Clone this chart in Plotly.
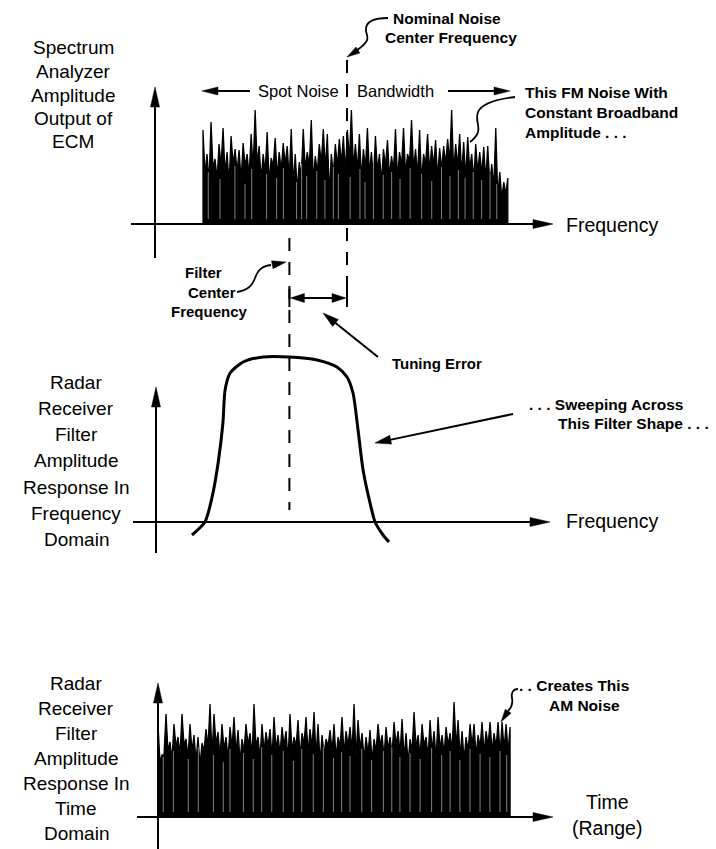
import numpy as np
import plotly.graph_objects as go

W, H = 716, 849
FONT = "Liberation Sans, Arial, Helvetica, sans-serif"

# ---- data -----------------------------------------------------------------
# frequency axis (arbitrary units) shared by the spectrum and filter panels
NOISE_CENTER = 8.0          # nominal noise centre frequency
FILTER_CENTER = 5.6         # radar receiver filter centre frequency
SPOT_BAND = (2.0, 14.7)     # spot-noise bandwidth
AM_SPAN = (0.0, 14.67)      # time span of the detected AM noise

# FM noise spectrum: alternating spike tops and the troughs between them
spot_peaks = [0.94, 0.70, 1.02, 0.65, 0.80, 0.96, 0.72, 0.88, 0.75, 0.74,
              0.81, 0.70, 0.90, 1.14, 0.78, 0.70, 0.92, 0.66, 0.86, 0.72,
              0.81, 0.78, 0.95, 0.70, 0.62, 0.95, 0.72, 1.04, 0.68, 0.80,
              0.95, 0.90, 0.70, 0.80, 0.85, 0.88, 0.94, 1.14, 0.80, 0.90,
              0.75, 0.96, 0.72, 0.88, 0.70, 0.75, 0.84, 0.68, 0.95, 0.72,
              0.96, 0.70, 1.04, 0.75, 0.94, 0.70, 0.90, 0.78, 0.84, 0.76,
              0.78, 0.85, 1.14, 0.80, 0.90, 0.82, 0.87, 0.70, 0.80, 0.72,
              0.77, 0.78, 0.60, 0.96, 0.52, 0.42, 0.46]
spot_dips = [0.50, 0.42, 0.55, 0.45, 0.58, 0.50, 0.40, 0.60, 0.52, 0.44,
             0.58, 0.48, 0.55, 0.60, 0.44, 0.52, 0.42, 0.58, 0.47, 0.54,
             0.60, 0.45, 0.40, 0.34, 0.48, 0.55, 0.58, 0.44, 0.52, 0.61,
             0.55, 0.30, 0.50, 0.58, 0.60, 0.52, 0.64, 0.56, 0.54, 0.46,
             0.56, 0.50, 0.44, 0.53, 0.42, 0.58, 0.47, 0.54, 0.45, 0.58,
             0.50, 0.62, 0.55, 0.48, 0.43, 0.60, 0.52, 0.58, 0.46, 0.55,
             0.60, 0.62, 0.52, 0.58, 0.50, 0.46, 0.55, 0.44, 0.52, 0.50,
             0.44, 0.40, 0.36, 0.28, 0.26, 0.30]
# thin gaps in the dense spectral lines: (frequency, top amplitude)
spot_gap_freq = [2.22, 2.71, 3.33, 3.75, 4.03, 4.65, 5.07, 5.35, 5.90, 6.11,
                 6.32, 6.74, 7.08, 7.43, 7.64, 8.13, 8.54, 8.75, 9.10, 9.51,
                 9.86, 10.21, 10.63, 11.11, 11.53, 11.94, 12.29, 12.64, 12.92,
                 13.26, 13.61, 13.96, 14.24]
spot_gap_top = [0.52, 0.45, 0.58, 0.40, 0.55, 0.50, 0.46, 0.56, 0.42, 0.60,
                0.48, 0.53, 0.44, 0.57, 0.50, 0.47, 0.55, 0.42, 0.58, 0.49,
                0.52, 0.45, 0.56, 0.50, 0.43, 0.57, 0.48, 0.54, 0.46, 0.52,
                0.44, 0.50, 0.40]

# filter amplitude response
filter_freq = [1.54, 2.08, 2.38, 2.63, 2.83, 2.92, 3.13, 3.67, 4.50, 5.58,
               6.75, 7.58, 8.00, 8.25, 8.46, 8.67, 8.96, 9.17, 9.50, 9.75]
filter_amp = [-0.13, 0.0, 0.25, 0.59, 0.99, 1.32, 1.49, 1.60, 1.65, 1.65,
              1.62, 1.55, 1.45, 1.29, 0.92, 0.52, 0.19, 0.0, -0.13, -0.20]

# AM noise at the filter output versus time
am_peaks = [0.93, 0.62, 1.03, 0.75, 0.93, 0.80, 1.03, 0.78, 0.93, 0.82,
            0.80, 0.74, 0.88, 1.13, 1.03, 0.85, 0.93, 0.80, 0.90, 1.00,
            0.87, 0.78, 0.93, 0.84, 1.13, 0.80, 0.93, 0.85, 0.88, 1.00,
            0.82, 0.90, 0.86, 1.03, 0.80, 0.97, 0.84, 1.00, 0.88, 1.05,
            0.93, 0.82, 0.78, 0.87, 0.93, 0.80, 1.00, 0.86, 0.90, 1.13,
            0.97, 0.84, 0.80, 0.87, 0.78, 0.93, 0.82, 0.90, 0.80, 0.95,
            0.86, 0.98, 0.84, 0.78, 1.05, 0.82, 0.93, 0.80, 0.97, 0.86,
            1.00, 0.82, 0.90, 0.84, 1.15, 0.97, 0.86, 0.80, 0.93, 0.93,
            0.82, 0.95, 0.86, 0.95, 0.84, 0.95, 0.95, 0.93, 0.90]
am_dips = [0.55, 0.62, 0.66, 0.58, 0.70, 0.63, 0.72, 0.60, 0.66, 0.56,
           0.52, 0.66, 0.70, 0.62, 0.73, 0.60, 0.68, 0.58, 0.70, 0.64,
           0.56, 0.66, 0.72, 0.61, 0.70, 0.59, 0.66, 0.71, 0.60, 0.68,
           0.63, 0.72, 0.57, 0.66, 0.70, 0.60, 0.73, 0.64, 0.70, 0.61,
           0.55, 0.63, 0.71, 0.66, 0.59, 0.70, 0.63, 0.72, 0.66, 0.60,
           0.68, 0.58, 0.64, 0.56, 0.66, 0.71, 0.60, 0.68, 0.63, 0.72,
           0.64, 0.59, 0.54, 0.66, 0.70, 0.61, 0.71, 0.60, 0.66, 0.58,
           0.68, 0.63, 0.72, 0.66, 0.70, 0.60, 0.57, 0.66, 0.71, 0.61,
           0.70, 0.64, 0.72, 0.66, 0.70, 0.63, 0.68, 0.66]
am_gap_time = [0.22, 0.64, 1.26, 1.68, 2.31, 2.72, 3.00, 3.56, 3.97, 4.32,
               4.74, 5.22, 5.64, 5.99, 6.47, 6.89, 7.31, 7.65, 8.00, 8.49,
               8.90, 9.39, 9.74, 10.08, 10.50, 10.92, 11.40, 11.82, 12.17,
               12.58, 13.00, 13.42, 13.83, 14.25, 14.53]
am_gap_top = [0.60, 0.66, 0.58, 0.70, 0.62, 0.55, 0.68, 0.64, 0.58, 0.70,
              0.62, 0.66, 0.56, 0.68, 0.63, 0.70, 0.59, 0.65, 0.61, 0.68,
              0.57, 0.66, 0.70, 0.60, 0.64, 0.58, 0.69, 0.62, 0.66, 0.57,
              0.68, 0.63, 0.60, 0.66, 0.62]

# ---- layout geometry (pixels) ----------------------------------------------
PX_PER_UNIT = 24.0    # horizontal pixels per frequency/time unit
PX_PER_AMP = 100.0    # vertical pixels per amplitude unit
FREQ_ORIGIN_PX = 155  # y-axis position of the frequency panels
TIME_ORIGIN_PX = 158  # y-axis position of the time panel
# (top px, bottom px, baseline px) of each panel
PANELS = [(0, 300, 224), (300, 600, 522), (600, 849, 817)]


def xp(px):
    return px / W


def yp(py):
    return 1 - py / H


def xrange_for(origin_px):
    return [-origin_px / PX_PER_UNIT, (W - origin_px) / PX_PER_UNIT]


def yrange_for(top, bot, base):
    return [(base - bot) / PX_PER_AMP, (base - top) / PX_PER_AMP]


def interleave(peaks, dips):
    out = []
    for i, p in enumerate(peaks):
        out.append(p)
        if i < len(dips):
            out.append(dips[i])
    return out


def noise_trace(span, peaks, dips, xa, ya):
    y = [0.0] + interleave(peaks, dips) + [0.0]
    x = np.concatenate([[span[0]], np.linspace(span[0], span[1], len(y) - 2),
                        [span[1]]])
    return go.Scatter(x=x, y=y, mode="lines", fill="tozeroy", fillcolor="black",
                      line=dict(color="black", width=1.3), xaxis=xa, yaxis=ya,
                      hoverinfo="skip")


def gap_trace(pos, tops, xa, ya):
    x, y = [], []
    for p, t in zip(pos, tops):
        x += [p, p, None]
        y += [0.05, t, None]
    return go.Scatter(x=x, y=y, mode="lines",
                      line=dict(color="#d8d8d8", width=0.6),
                      xaxis=xa, yaxis=ya, hoverinfo="skip")


fig = go.Figure()

# spectrum of the FM spot noise
fig.add_trace(noise_trace(SPOT_BAND, spot_peaks, spot_dips, "x", "y"))
fig.add_trace(gap_trace(spot_gap_freq, spot_gap_top, "x", "y"))

# filter shape
fig.add_trace(go.Scatter(x=filter_freq, y=filter_amp, mode="lines",
                         line=dict(color="black", width=3, shape="spline",
                                   smoothing=0.7),
                         xaxis="x2", yaxis="y2", hoverinfo="skip"))

# AM noise in time
fig.add_trace(noise_trace(AM_SPAN, am_peaks, am_dips, "x3", "y3"))
fig.add_trace(gap_trace(am_gap_time, am_gap_top, "x3", "y3"))

shapes = []
annotations = []


def seg(x0, y0, x1, y1, width=2.0, dash=None):
    line = dict(color="black", width=width)
    if dash:
        line["dash"] = dash
    shapes.append(dict(type="line", xref="paper", yref="paper",
                       x0=xp(x0), y0=yp(y0), x1=xp(x1), y1=yp(y1), line=line))


def head(tip, frm, length=15, width=8):
    tx, ty = tip
    fx, fy = frm
    d = np.hypot(fx - tx, fy - ty)
    ux, uy = (fx - tx) / d, (fy - ty) / d
    bx, by = tx + ux * length, ty + uy * length
    nx, ny = -uy * width / 2, ux * width / 2
    pts = [(tx, ty), (bx + nx, by + ny), (bx - nx, by - ny)]
    path = "M " + " L ".join(f"{xp(a):.5f},{yp(b):.5f}" for a, b in pts) + " Z"
    shapes.append(dict(type="path", xref="paper", yref="paper", path=path,
                       fillcolor="black", line=dict(color="black", width=0.5)))


def arrow(tail, tip, width=2.0, length=15, hw=8):
    d = np.hypot(tip[0] - tail[0], tip[1] - tail[1])
    ux, uy = (tip[0] - tail[0]) / d, (tip[1] - tail[1]) / d
    stop = (tip[0] - ux * (length - 2), tip[1] - uy * (length - 2))
    seg(tail[0], tail[1], stop[0], stop[1], width)
    head(tip, tail, length, hw)


def curve(points, width=1.8):
    (x0, y0), rest = points[0], points[1:]
    path = f"M {xp(x0):.5f},{yp(y0):.5f}"
    for i in range(0, len(rest), 3):
        c = rest[i:i + 3]
        path += " C " + " ".join(f"{xp(a):.5f},{yp(b):.5f}" for a, b in c)
    shapes.append(dict(type="path", xref="paper", yref="paper", path=path,
                       line=dict(color="black", width=width)))


def text(s, x, y, size=15.5, bold=True, anchor="left"):
    annotations.append(dict(text=s, xref="paper", yref="paper", x=xp(x), y=yp(y),
                            xanchor=anchor, yanchor="middle", showarrow=False,
                            font=dict(family=FONT, size=size, color="black",
                                      weight="bold" if bold else "normal")))


def stacked(lines, x, y0, dy, size=19):
    for i, s in enumerate(lines):
        text(s, x, y0 + i * dy, size=size, bold=False, anchor="center")


# axes with arrowheads
arrow((155, 258), (155, 87), 2.0, 20, 9)
arrow((131, 224), (553, 224), 2.0, 20, 9)
arrow((156, 553), (156, 387), 2.0, 20, 9)
arrow((133, 522), (550, 522), 2.0, 20, 9)
arrow((158, 849), (158, 683), 2.0, 20, 9)
arrow((137, 817), (553, 817), 2.0, 20, 9)

# centre-frequency dashed markers (positioned on the frequency axis)
shapes.append(dict(type="line", xref="x", yref="paper", x0=NOISE_CENTER,
                   x1=NOISE_CENTER, y0=yp(60), y1=yp(306),
                   line=dict(color="black", width=2, dash="13px,11px")))
shapes.append(dict(type="line", xref="x", yref="paper", x0=FILTER_CENTER,
                   x1=FILTER_CENTER, y0=yp(238), y1=yp(510),
                   line=dict(color="black", width=2, dash="13px,11px")))

# tuning error bracket between the two centre frequencies
fc_px = FREQ_ORIGIN_PX + FILTER_CENTER * PX_PER_UNIT
nc_px = FREQ_ORIGIN_PX + NOISE_CENTER * PX_PER_UNIT
seg(fc_px + 10, 298, nc_px - 10, 298, 2)
head((fc_px + 1, 298), (nc_px, 298), 14, 9)
head((nc_px - 1, 298), (fc_px, 298), 14, 9)
seg(fc_px, 289, fc_px, 307, 2)
seg(nc_px, 289, nc_px, 307, 2)

# spot noise bandwidth arrows
arrow((250, 91), (202, 91), 2, 16, 8)
arrow((448, 91), (510, 91), 2, 16, 8)
text("Spot Noise", 256, 91, size=16.5, bold=False)
text("Bandwidth", 355, 91, size=16.5, bold=False)

# nominal noise centre frequency callout
text("Nominal Noise", 391, 18)
text("Center Frequency", 383, 38)
curve([(388, 18), (376, 18), (367, 21), (366, 28),
       (365, 34), (370, 37), (366, 42),
       (363, 46), (360, 48), (356, 51)])
head((347, 57), (358, 50), 13, 7)

# FM noise callout
text("This FM Noise With", 523, 92)
text("Constant Broadband", 523, 112)
text("Amplitude . . .", 523, 132)
curve([(515, 97), (498, 99), (482, 103), (478, 112),
       (475, 120), (480, 126), (478, 132),
       (477, 136), (474, 139), (470, 142)])

# filter centre frequency callout
text("Filter", 204, 272, size=15, anchor="center")
text("Center", 212, 292, size=15, anchor="center")
text("Frequency", 209, 312, size=15, anchor="center")
curve([(237, 292), (248, 290), (252, 286), (255, 278),
       (258, 270), (262, 266), (271, 265)])
head((286, 262), (271, 265), 14, 8)

# tuning error
text("Tuning Error", 437, 364, size=15, anchor="center")
arrow((378, 357), (323, 313), 2, 16, 9)

# sweeping filter callout
text(". . . Sweeping Across", 527, 404)
text("This Filter Shape . . .", 556, 423)
arrow((513, 414), (375, 443), 2, 16, 9)

# AM noise callout
text(". . Creates This", 517, 685)
text("AM Noise", 547, 705)
curve([(518, 689), (513, 689), (511, 693), (512, 698),
       (513, 703), (512, 707), (508, 711)])
head((501, 722), (509, 710), 13, 7)

# axis titles
text("Frequency", 564, 225, size=19.5, bold=False)
text("Frequency", 564, 521, size=19.5, bold=False)
text("Time", 607, 802, size=19.5, bold=False, anchor="center")
text("(Range)", 607, 828, size=19.5, bold=False, anchor="center")

stacked(["Spectrum", "Analyzer", "Amplitude", "Output of", "ECM"], 73, 48, 23.5)
stacked(["Radar", "Receiver", "Filter", "Amplitude", "Response In",
         "Frequency", "Domain"], 76, 382, 26.3)
stacked(["Radar", "Receiver", "Filter", "Amplitude", "Response In",
         "Time", "Domain"], 76, 683, 25)

# ---- axes -------------------------------------------------------------------
def dom(top, bot):
    return [yp(bot), yp(top)]


hidden = dict(visible=False, showgrid=False, zeroline=False, fixedrange=True)
layout_axes = {}
for i, (top, bot, base) in enumerate(PANELS, start=1):
    sfx = "" if i == 1 else str(i)
    origin = TIME_ORIGIN_PX if i == 3 else FREQ_ORIGIN_PX
    layout_axes[f"xaxis{sfx}"] = dict(hidden, domain=[0, 1], range=xrange_for(origin),
                                      anchor=f"y{sfx}")
    layout_axes[f"yaxis{sfx}"] = dict(hidden, domain=dom(top, bot),
                                      range=yrange_for(top, bot, base),
                                      anchor=f"x{sfx}")

fig.update_layout(width=W, height=H, margin=dict(l=0, r=0, t=0, b=0),
                  paper_bgcolor="white", plot_bgcolor="white", showlegend=False,
                  shapes=shapes, annotations=annotations, **layout_axes)

fig.write_html("out.html")
